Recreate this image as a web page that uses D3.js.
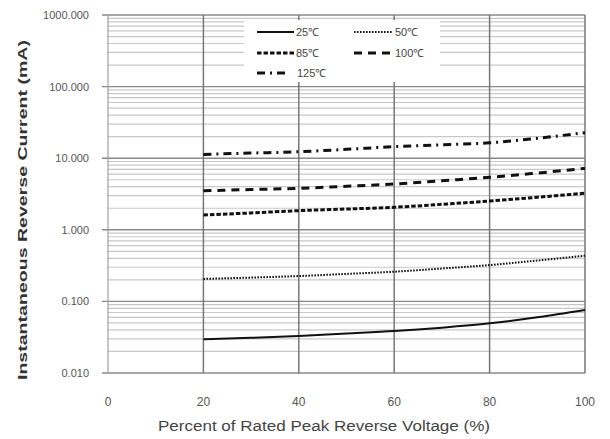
<!DOCTYPE html>
<html>
<head>
<meta charset="utf-8">
<script src="https://cdn.jsdelivr.net/npm/d3@7"></script>
<style>
  html, body { margin: 0; padding: 0; background: #fff; }
  svg { display: block; }
  text { font-family: "Liberation Sans Narrow", "Liberation Sans", Arial, sans-serif; }
</style>
</head>
<body>
<svg id="chart" width="610" height="439"></svg>
<script>
// Percent of rated peak reverse voltage
const percent = [20, 30, 40, 50, 60, 70, 80, 90, 100];

// Reverse current (mA) per junction temperature
const current25  = [0.0295, 0.031, 0.0328, 0.0355, 0.0385, 0.043, 0.0494, 0.060, 0.0758];
const current50  = [0.206, 0.215, 0.226, 0.242, 0.260, 0.288, 0.322, 0.372, 0.435];
const current85  = [1.61, 1.72, 1.85, 1.95, 2.06, 2.27, 2.52, 2.85, 3.24];
const current100 = [3.5, 3.65, 3.8, 4.05, 4.36, 4.85, 5.4, 6.2, 7.2];
const current125 = [11.3, 11.8, 12.3, 13.3, 14.5, 15.4, 16.4, 19.0, 22.7];

const seriesNames = ["25℃", "50℃", "85℃", "100℃", "125℃"];
const seriesValues = [current25, current50, current85, current100, current125];

const xTicks = [0, 20, 40, 60, 80, 100];
const xTickLabels = ["0", "20", "40", "60", "80", "100"];
const yTicks = [0.01, 0.1, 1, 10, 100, 1000];
const yTickLabels = ["0.010", "0.100", "1.000", "10.000", "100.000", "1000.000"];

const styles = [
  { width: 2, dash: null },
  { width: 2, dash: "1.6,1.4" },
  { width: 3, dash: "4.5,2" },
  { width: 3, dash: "8,6" },
  { width: 3, dash: "8,5,2,5" }
];

const svg = d3.select("#chart");
const plotLeft = 108, plotRight = 585, plotTop = 15, plotBottom = 373;

const x = d3.scaleLinear().domain([0, 100]).range([plotLeft, plotRight]);
const y = d3.scaleLog().domain([0.01, 1000]).range([plotBottom, plotTop]);

// minor horizontal grid (2..9 in each decade)
const minor = [];
for (let e = -2; e < 3; e++) {
  for (let k = 2; k <= 9; k++) minor.push(k * Math.pow(10, e));
}
svg.append("g").selectAll("line").data(minor).join("line")
  .attr("x1", plotLeft).attr("x2", plotRight)
  .attr("y1", d => y(d)).attr("y2", d => y(d))
  .attr("stroke", "#c8c8c8").attr("stroke-width", 1.2);

// major horizontal grid
svg.append("g").selectAll("line").data(yTicks).join("line")
  .attr("x1", plotLeft - 6).attr("x2", plotRight)
  .attr("y1", d => y(d)).attr("y2", d => y(d))
  .attr("stroke", "#888").attr("stroke-width", 1.4);

// vertical grid
svg.append("g").selectAll("line").data(xTicks.slice(1)).join("line")
  .attr("x1", d => x(d)).attr("x2", d => x(d))
  .attr("y1", plotTop).attr("y2", plotBottom)
  .attr("stroke", "#777").attr("stroke-width", 1.5);

// left axis line
svg.append("line")
  .attr("x1", plotLeft).attr("x2", plotLeft).attr("y1", plotTop).attr("y2", plotBottom)
  .attr("stroke", "#a0a0a0").attr("stroke-width", 1.2);

// legend box
svg.append("rect")
  .attr("x", 244).attr("y", 20).attr("width", 196).attr("height", 62)
  .attr("fill", "#fff");

// curves
const line = d3.line()
  .x((d, i) => x(percent[i]))
  .y(d => y(d))
  .curve(d3.curveMonotoneX);

svg.append("g").selectAll("path").data(seriesValues).join("path")
  .attr("d", d => line(d))
  .attr("fill", "none")
  .attr("stroke", "#111")
  .attr("stroke-width", (d, i) => styles[i].width)
  .attr("stroke-dasharray", (d, i) => styles[i].dash);

// legend entries
const legendPos = [
  { x: 257, y: 32, len: 37 }, { x: 354, y: 32, len: 39 },
  { x: 257, y: 53, len: 37 }, { x: 354, y: 53, len: 39 },
  { x: 257, y: 73, len: 28 }
];
const lg = svg.append("g").selectAll("g").data(seriesNames).join("g")
  .attr("transform", (d, i) => `translate(${legendPos[i].x},${legendPos[i].y})`);
lg.append("line")
  .attr("x1", 0).attr("x2", (d, i) => legendPos[i].len).attr("y1", 0).attr("y2", 0)
  .attr("stroke", "#111")
  .attr("stroke-width", (d, i) => styles[i].width)
  .attr("stroke-dasharray", (d, i) => styles[i].dash);
lg.append("text")
  .attr("x", (d, i) => i === 4 ? 40 : legendPos[i].len + 2).attr("y", 4)
  .attr("font-size", 11).attr("fill", "#444")
  .text(d => d);

// y tick labels
svg.append("g").selectAll("text").data(yTicks).join("text")
  .attr("x", 89).attr("y", d => y(d) + 4)
  .attr("text-anchor", "end").attr("font-size", 11).attr("fill", "#555")
  .text((d, i) => yTickLabels[i]);

// x tick labels
svg.append("g").selectAll("text").data(xTicks).join("text")
  .attr("x", d => x(d)).attr("y", 406)
  .attr("text-anchor", "middle").attr("font-size", 12).attr("fill", "#555")
  .text((d, i) => xTickLabels[i]);

// axis titles
svg.append("text")
  .attr("x", 158).attr("y", 431)
  .attr("font-size", 14).attr("fill", "#444")
  .attr("textLength", 332).attr("lengthAdjust", "spacingAndGlyphs")
  .text("Percent of  Rated Peak Reverse Voltage (%)");

svg.append("text")
  .attr("transform", "translate(27,380) rotate(-90)")
  .attr("font-size", 13).attr("font-weight", "bold").attr("fill", "#333")
  .attr("textLength", 340).attr("lengthAdjust", "spacingAndGlyphs")
  .text("Instantaneous Reverse Current (mA)");
</script>
</body>
</html>
